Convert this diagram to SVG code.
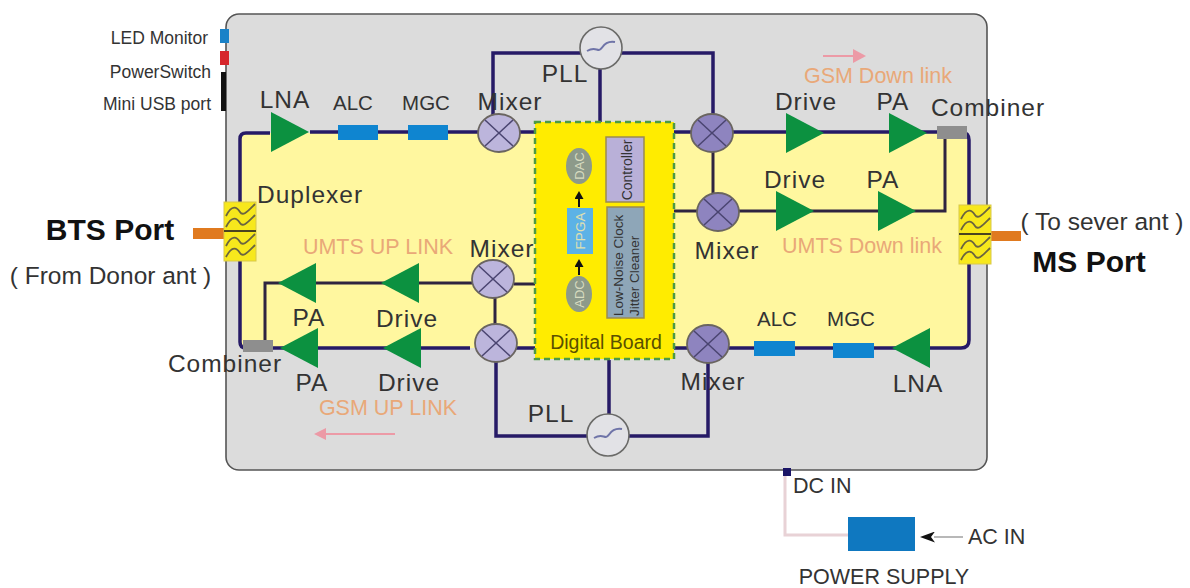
<svg xmlns="http://www.w3.org/2000/svg" width="1190" height="588" viewBox="0 0 1190 588">
<style>
text{font-family:"Liberation Sans",Arial,sans-serif;fill:#333}
.l{font-size:24.5px;letter-spacing:1px}
.m{font-size:20.5px}
.o{font-size:21.5px;fill:#e9a878}
.p{font-size:21.5px}
.u{font-size:17.5px}
.w{fill:none;stroke:#261a66;stroke-width:3.5}
.t{fill:none;stroke:#2f2440;stroke-width:3}
.amp{fill:#0c9140}
#mix ellipse{stroke:#6a6560;stroke-width:1.8}
#mix line{stroke:#4a4470;stroke-width:1.5}
.blue{fill:#0f85d0}
.wave{fill:none;stroke:#6a6440;stroke-width:1.8}
</style>
<defs>
<g id="mix"><ellipse rx="21" ry="19"/><line x1="-14" y1="-13" x2="14" y2="13"/><line x1="14" y1="-13" x2="-14" y2="13"/></g>
<polygon id="ar" class="amp" points="-19,-20 19,0 -19,20"/>
<polygon id="al" class="amp" points="19,-20 -19,0 19,20"/>
<g id="dup"><rect x="-16" y="-29" width="32" height="59" fill="#f7e81c" stroke="#d8c84a"/><line x1="-16" y1="0" x2="16" y2="0" stroke="#4a4420" stroke-width="2"/>
<path class="wave" d="M-14-15C-8-27-3-24 0-19S8-20 15-27M-14-4C-8-16-3-13 0-8S8-9 15-16M-14 15C-8 3-3 6 0 11S8 10 15 3M-14 26C-8 14-3 17 0 22S8 21 15 14"/></g>
<g id="pll"><circle r="21" fill="#e2e2e6" stroke="#6a6a68" stroke-width="1.6"/><path d="M-14 3C-7-1-5 2-2 2S3-8 14-6" fill="none" stroke="#6f74a8" stroke-width="2"/></g>
<marker id="bk" markerUnits="userSpaceOnUse" markerWidth="8" markerHeight="9" refX="1" refY="4.5" orient="auto"><path d="M0 0L8 4.5L0 9z" fill="#111"/></marker>
<marker id="ac" markerUnits="userSpaceOnUse" markerWidth="15" markerHeight="11" refX="1" refY="5.5" orient="auto"><path d="M0 0L15 5.5L0 11L4 5.5z" fill="#111"/></marker>
</defs>
<rect width="1190" height="588" fill="#fff"/>
<g id="enclosure"><rect x="226" y="14" width="761" height="456" rx="13" fill="#dcdcdc" stroke="#555" stroke-width="1.6"/></g>
<g id="rf-area"><rect x="240" y="133" width="729" height="215" rx="6" fill="#fff79f"/></g>
<g id="connectors">
<path class="w" d="M270 133H246Q240 133 240 139V342Q240 348 246 348H280"/>
<path class="w" d="M310 132H480M515 132H536"/>
<path class="w" d="M493 116V53H582M620 53H713V116"/>
<path class="w" d="M600 69V122"/>
<path class="w" d="M674 132H960M962 132Q969 133 969 140V340Q969 348 961 348H892"/>
<path class="t" d="M713 148V195"/>
<path class="t" d="M674 211H945V135"/>
<path class="t" d="M472 283H265V342"/>
<path class="t" d="M514 284H536"/>
<path class="t" d="M495 298V326"/>
<path class="w" d="M280 348H470M516 348H536"/>
<path class="w" d="M496 360V436H588M628 436H708V362"/>
<path class="w" d="M609 360V414"/>
<path class="w" d="M674 348H892"/>
<path d="M785 472V535H850" fill="none" stroke="#e8d2d6" stroke-width="3"/>
<line x1="963" y1="537" x2="934" y2="537" stroke="#888" stroke-width="1.2" marker-end="url(#ac)"/>
<path d="M395 434H322" fill="none" stroke="#ec9aa6" stroke-width="2"/><path d="M314 434L326 428V440z" fill="#ec9aa6"/>
<path d="M823 56H858" fill="none" stroke="#ec9aa6" stroke-width="2"/><path d="M866 56L853 49V63z" fill="#ec9aa6"/>
</g>
<g id="led-monitor"><rect x="220" y="29" width="9" height="14" fill="#1a82c8"/><text class="u" x="208" y="44" text-anchor="end">LED Monitor</text></g>
<g id="power-switch"><rect x="220" y="51" width="9" height="14" fill="#d6262b"/><text class="u" x="211" y="78" text-anchor="end">PowerSwitch</text></g>
<g id="usb"><rect x="221" y="72" width="5" height="39" fill="#111"/><text class="u" x="211" y="110" text-anchor="end">Mini USB port</text></g>
<g id="bts-port"><rect x="193" y="228" width="33" height="11" fill="#e07a1f"/><text x="110" y="240" text-anchor="middle" style="font-size:30px;font-weight:700;fill:#111">BTS Port</text><text x="110.500" y="284" text-anchor="middle" style="font-size:24.500px">( From Donor ant )</text></g>
<g id="ms-port"><rect x="990" y="231" width="31" height="10" fill="#e07a1f"/><text x="1102" y="230" text-anchor="middle" style="font-size:24.500px">( To sever ant )</text><text x="1089" y="272" text-anchor="middle" style="font-size:30px;font-weight:700;fill:#111">MS Port</text></g>
<g id="duplexer-left"><use href="#dup" x="240" y="231"/><text class="l" x="257" y="203">Duplexer</text></g>
<g id="duplexer-right"><use href="#dup" x="975" y="234"/></g>
<g id="lna-top"><use href="#ar" x="290" y="132"/><text class="l" x="285" y="108" text-anchor="middle">LNA</text></g>
<g id="alc-top"><rect x="338" y="125" width="40" height="15" class="blue"/><text class="m" x="353" y="110" text-anchor="middle">ALC</text></g>
<g id="mgc-top"><rect x="408" y="125" width="40" height="15" class="blue"/><text class="m" x="426" y="110" text-anchor="middle">MGC</text></g>
<g id="mixer-top-left"><use href="#mix" x="499" y="133" fill="#bcb5dc"/><text class="l" x="510" y="110" text-anchor="middle">Mixer</text></g>
<g id="mixer-top-right"><use href="#mix" x="712" y="133" fill="#8e84bf"/></g>
<g id="mixer-mid-right"><use href="#mix" x="718" y="212" fill="#8e84bf"/><text class="l" x="727" y="259" text-anchor="middle">Mixer</text></g>
<g id="mixer-mid-left"><use href="#mix" x="493" y="279" fill="#bcb5dc"/><text class="l" x="502" y="257" text-anchor="middle">Mixer</text></g>
<g id="mixer-low-left"><use href="#mix" x="496" y="343" fill="#bcb5dc"/></g>
<g id="mixer-low-right"><use href="#mix" x="708" y="344" fill="#8e84bf"/><text class="l" x="713" y="390" text-anchor="middle">Mixer</text></g>
<g id="pll-top"><use href="#pll" x="601" y="48"/><text class="l" x="565" y="82" text-anchor="middle">PLL</text></g>
<g id="pll-bottom"><use href="#pll" x="608" y="435"/><text class="l" x="551" y="422" text-anchor="middle">PLL</text></g>
<g id="drive-top"><use href="#ar" x="805" y="133"/><text class="l" x="806" y="110" text-anchor="middle">Drive</text></g>
<g id="pa-top"><use href="#ar" x="908" y="133"/><text class="l" x="893" y="110" text-anchor="middle">PA</text></g>
<g id="combiner-top"><rect x="937" y="126" width="30" height="13" fill="#8e8e8e"/><text class="l" x="988" y="116" text-anchor="middle">Combiner</text></g>
<g id="drive-mid"><use href="#ar" x="795" y="211"/><text class="l" x="795" y="188" text-anchor="middle">Drive</text></g>
<g id="pa-mid"><use href="#ar" x="897" y="211"/><text class="l" x="883" y="188" text-anchor="middle">PA</text></g>
<g id="lna-bottom"><use href="#al" x="911" y="348"/><text class="l" x="918" y="392" text-anchor="middle">LNA</text></g>
<g id="alc-bottom"><rect x="754" y="341" width="41" height="15" class="blue"/><text class="m" x="777" y="326" text-anchor="middle">ALC</text></g>
<g id="mgc-bottom"><rect x="833" y="343" width="41" height="15" class="blue"/><text class="m" x="851" y="326" text-anchor="middle">MGC</text></g>
<g id="pa-up"><use href="#al" x="297" y="283"/><text class="l" x="309" y="326" text-anchor="middle">PA</text></g>
<g id="drive-up"><use href="#al" x="400" y="283"/><text class="l" x="407" y="327" text-anchor="middle">Drive</text></g>
<g id="pa-gsm"><use href="#al" x="299" y="348"/><text class="l" x="312" y="391" text-anchor="middle">PA</text></g>
<g id="drive-gsm"><use href="#al" x="402" y="348"/><text class="l" x="409" y="391" text-anchor="middle">Drive</text></g>
<g id="combiner-bottom"><rect x="243" y="340" width="30" height="12" fill="#8e8e8e"/><text class="l" x="225" y="372" text-anchor="middle">Combiner</text></g>
<g id="digital-board"><rect x="535" y="122" width="139" height="237" fill="#ffec00" stroke="#4d9a44" stroke-width="2.5" stroke-dasharray="6 4"/>
<text x="606" y="349" text-anchor="middle" style="font-size:19.5px;fill:#5a5000">Digital Board</text>
<ellipse cx="579" cy="166" rx="13" ry="18" fill="#8d9a8a"/><text transform="translate(584 166) rotate(-90)" text-anchor="middle" style="font-size:13px;fill:#d8dcc0">DAC</text>
<rect x="567" y="208" width="26" height="46" fill="#5cb2e6"/><text transform="translate(585 231) rotate(-90)" text-anchor="middle" style="font-size:13.5px;fill:#e0e0b0">FPGA</text>
<ellipse cx="579" cy="294" rx="13" ry="18" fill="#8d9a8a"/><text transform="translate(584 294) rotate(-90)" text-anchor="middle" style="font-size:13px;fill:#d8dcc0">ADC</text>
<line x1="579" y1="207" x2="579" y2="198" stroke="#111" stroke-width="2" marker-end="url(#bk)"/>
<line x1="579" y1="275" x2="579" y2="266" stroke="#111" stroke-width="2" marker-end="url(#bk)"/>
<rect x="606" y="137" width="38" height="65" fill="#b9b0d8" stroke="#9a8a50" stroke-width="1.5"/><text transform="translate(632 170) rotate(-90)" text-anchor="middle" style="font-size:14px">Controller</text>
<rect x="607" y="207" width="37" height="111" fill="#8ea6b8" stroke="#9a8a50" stroke-width="1.5"/><text transform="translate(623 316) rotate(-90)" style="font-size:13.500px">Low-Noise Clock</text><text transform="translate(639 316) rotate(-90)" style="font-size:13.500px">Jitter Cleaner</text></g>
<g id="labels"><text class="o" x="878" y="83" text-anchor="middle">GSM Down link</text><text class="o" x="862" y="253" text-anchor="middle">UMTS Down link</text><text class="o" x="378" y="254" text-anchor="middle">UMTS UP LINK</text><text class="o" x="388" y="415" text-anchor="middle">GSM UP LINK</text></g>
<g id="dc-in"><rect x="783" y="468" width="8" height="8" fill="#1a1466"/><text class="p" x="793" y="493">DC IN</text></g>
<g id="power-supply"><rect x="848" y="517" width="67" height="34" fill="#0f78c0"/><text class="p" x="884" y="584" text-anchor="middle">POWER SUPPLY</text></g>
<g id="ac-in"><text class="p" x="968" y="544">AC IN</text></g>
</svg>
